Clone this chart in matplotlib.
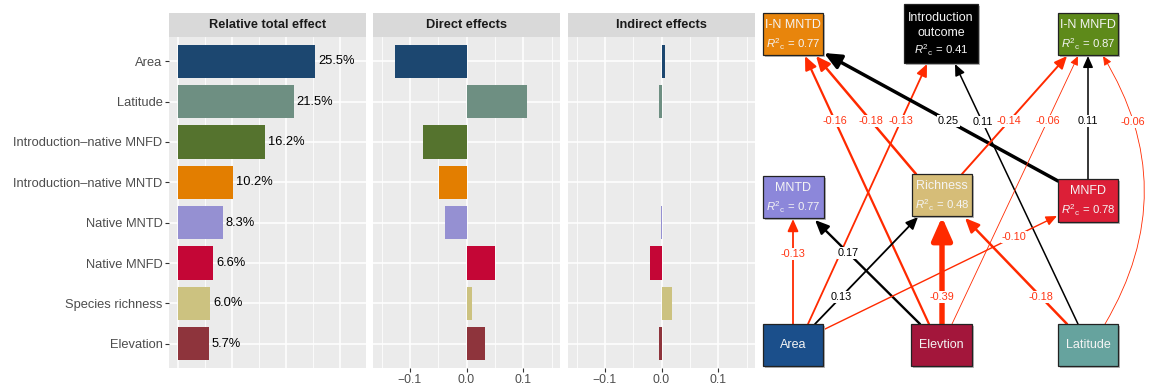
import numpy as np
import matplotlib
matplotlib.use('Agg')
import matplotlib.pyplot as plt
from matplotlib.patches import Rectangle, FancyArrowPatch, ArrowStyle

plt.rcParams['font.family'] = ['Liberation Sans', 'DejaVu Sans']
plt.rcParams['mathtext.fontset'] = 'custom'
plt.rcParams['mathtext.rm'] = 'Liberation Sans'
plt.rcParams['mathtext.it'] = 'Liberation Sans:italic'

# ---- bar panel data ----
categories = ['Area', 'Latitude', 'Introduction\u2013native MNFD', 'Introduction\u2013native MNTD',
              'Native MNTD', 'Native MNFD', 'Species richness', 'Elevation']
relative_total = [25.5, 21.5, 16.2, 10.2, 8.3, 6.6, 6.0, 5.7]
direct_effects = [-0.127, 0.106, -0.076, -0.049, -0.038, 0.051, 0.009, 0.032]
indirect_effects = [0.007, -0.005, 0.0015, 0.0015, -0.0015, -0.021, 0.019, -0.005]
bar_colors = ['#1C4770', '#6E8F82', '#55732E', '#E37E00',
              '#9590D2', '#C40636', '#CCC280', '#8E343C']
panel_titles = ['Relative total effect', 'Direct effects', 'Indirect effects']

# ---- path diagram data ----
node_names = ['INMNTD', 'Outcome', 'INMNFD', 'MNTD', 'Richness', 'MNFD', 'Area', 'Elevation', 'Latitude']
node_labels = [['I-N MNTD'], ['Introduction', 'outcome'], ['I-N MNFD'], ['MNTD'], ['Richness'], ['MNFD'],
               ['Area'], ['Elevtion'], ['Latitude']]
node_r2 = [0.77, 0.41, 0.87, 0.77, 0.48, 0.78, None, None, None]
node_colors = ['#E8850C', '#000000', '#5E8A1A', '#8C87DA', '#D6BD78', '#DC1F37',
               '#1B4F8B', '#A3163B', '#66A39E']

path_from = ['Elevation', 'Richness', 'Area', 'MNFD', 'Latitude', 'Richness', 'Elevation', 'MNFD',
             'Latitude', 'Area', 'Elevation', 'Area', 'Area', 'Elevation', 'Latitude']
path_to = ['INMNTD', 'INMNTD', 'Outcome', 'INMNTD', 'Outcome', 'INMNFD', 'INMNFD', 'INMNFD',
           'INMNFD', 'MNTD', 'MNTD', 'Richness', 'MNFD', 'Richness', 'Richness']
path_coef = [-0.16, -0.18, -0.13, 0.25, 0.11, -0.14, -0.06, 0.11,
             -0.06, -0.13, 0.17, 0.13, -0.10, -0.39, -0.18]

# ---- layout (pixel coordinates of the diagram) ----
node_box = {
    'INMNTD': (763, 13, 823, 55), 'Outcome': (904, 4, 978, 63), 'INMNFD': (1058, 13, 1118, 55),
    'MNTD': (763, 176, 824, 218), 'Richness': (912, 174, 972, 216), 'MNFD': (1058, 179, 1118, 222),
    'Area': (763, 324, 823, 366), 'Elevation': (911, 324, 972, 366), 'Latitude': (1058, 324, 1118, 366),
}
edge_ends = [((929, 324), (805, 56)), ((916, 174), (816, 56)), ((808, 324), (927, 64)),
             ((1058, 181), (824, 53)), ((1078, 324), (955, 64)), ((962, 174), (1067, 56)),
             ((952, 324), (1078, 56)), ((1088, 179), (1088, 56)), ((1105, 324), (1103, 56)),
             ((793, 324), (793, 219)), ((920, 324), (815, 220)), ((815, 324), (918, 217)),
             ((823, 330), (1057, 216)), ((942, 324), (942, 217)), ((1067, 324), (965, 218))]
edge_rad = [0, 0, 0, 0, 0, 0, 0, 0, 0.3, 0, 0, 0, 0, 0, 0]
label_y = [121, 121, 121, 121, 122, 121, 121, 121, 122, 254, 253, 297, 237, 297, 297]
label_x_override = {8: 1133}

RED = '#FF2A00'
RED_TXT = '#FF3514'
W, H = 1150, 391


def fig_box(x0, y0, x1, y1):
    return [x0 / W, 1 - y1 / H, (x1 - x0) / W, (y1 - y0) / H]


fig = plt.figure(figsize=(W / 100, H / 100), dpi=100)

ypos = np.arange(len(categories))[::-1] + 1
panel_x = [(169, 366), (373, 560), (568, 755)]
panel_vals = [relative_total, direct_effects, indirect_effects]
panel_lim = [(-1.65, 34.9), (-0.165, 0.165), (-0.165, 0.165)]
panel_major = [[0, 10, 20, 30], [-0.1, 0, 0.1], [-0.1, 0, 0.1]]
panel_minor = [[5, 15, 25], [-0.15, -0.05, 0.05, 0.15], [-0.15, -0.05, 0.05, 0.15]]

for i, (x0, x1) in enumerate(panel_x):
    ax = fig.add_axes(fig_box(x0, 37, x1, 368))
    ax.set_facecolor('#EBEBEB')
    ax.set_xlim(panel_lim[i])
    ax.set_ylim(0.4, 8.6)
    for v in panel_minor[i]:
        ax.axvline(v, color='white', lw=0.55, zorder=0)
    for v in panel_major[i]:
        ax.axvline(v, color='white', lw=1.1, zorder=0)
    for y in ypos:
        ax.axhline(y, color='white', lw=1.1, zorder=0)
    ax.barh(ypos, panel_vals[i], height=0.82, color=bar_colors, zorder=2)
    for s in ax.spines.values():
        s.set_visible(False)
    ax.tick_params(colors='#333333', labelcolor='#4D4D4D', length=2.6, width=0.8, pad=2)
    if i == 0:
        ax.set_yticks(ypos)
        ax.set_yticklabels(categories, fontsize=9.3)
        ax.set_xticks([])
        for y, v in zip(ypos, relative_total):
            ax.text(v + 0.5, y, f'{v:.1f}%', ha='left', va='center', fontsize=9.3, color='black')
    else:
        ax.set_yticks([])
        ax.set_xticks(panel_major[i])
        ax.set_xticklabels(['\u22120.1', '0.0', '0.1'], fontsize=8.8)
    sax = fig.add_axes(fig_box(x0, 13, x1, 37))
    sax.set_facecolor('#D9D9D9')
    sax.set_xticks([])
    sax.set_yticks([])
    for s in sax.spines.values():
        s.set_visible(False)
    sax.text(0.5, 0.5, panel_titles[i], ha='center', va='center', fontsize=9.2,
             fontweight='bold', color='#1A1A1A', transform=sax.transAxes)

# ---- path diagram ----
axd = fig.add_axes([755 / W, 0, 395 / W, 1])
axd.set_xlim(755, 1150)
axd.set_ylim(H, 0)
axd.axis('off')

for name, lines, r2, col in zip(node_names, node_labels, node_r2, node_colors):
    bx0, by0, bx1, by1 = node_box[name]
    axd.add_patch(Rectangle((bx0 + 1.5, by0 + 1.5), bx1 - bx0, by1 - by0, fc='#B8B8B8', ec='none', zorder=3))
    axd.add_patch(Rectangle((bx0, by0), bx1 - bx0, by1 - by0, fc=col, ec='#222222', lw=0.9, zorder=4))
    cx = (bx0 + bx1) / 2
    rows = list(lines)
    if r2 is not None:
        rows.append(r'$R^{2}{}_{\mathrm{c}}$' + f' = {r2:.2f}')
    n = len(rows)
    step = 15.5 if n > 2 else 18
    top = (by0 + by1) / 2 - step * (n - 1) / 2
    for k, row in enumerate(rows):
        is_r2 = r2 is not None and k == n - 1
        axd.text(cx, top + k * step + (1 if is_r2 else 0), row, ha='center', va='center',
                 fontsize=8.2 if is_r2 else 9, color='#F4F4F4', zorder=5)

for k, (src, dst, coef) in enumerate(zip(path_from, path_to, path_coef)):
    p0, p1 = edge_ends[k]
    col = RED if coef < 0 else 'black'
    a = abs(coef)
    arr = FancyArrowPatch(p0, p1, arrowstyle=ArrowStyle('-|>', head_length=0.45, head_width=0.2),
                          mutation_scale=9 + 55 * a, lw=10 * a, color=col,
                          connectionstyle=f'arc3,rad={edge_rad[k]}', shrinkA=0, shrinkB=0, zorder=2)
    axd.add_patch(arr)
    ly = label_y[k]
    if k in label_x_override:
        lx = label_x_override[k]
    else:
        t = (ly - p0[1]) / (p1[1] - p0[1])
        lx = p0[0] + t * (p1[0] - p0[0])
    axd.text(lx, ly, f'{coef:.2f}', ha='center', va='center', fontsize=7.8,
             color=RED_TXT if coef < 0 else 'black', zorder=6,
             bbox=dict(boxstyle='square,pad=0.08', fc='white', ec='none'))

fig.savefig('out.png', dpi=100)
